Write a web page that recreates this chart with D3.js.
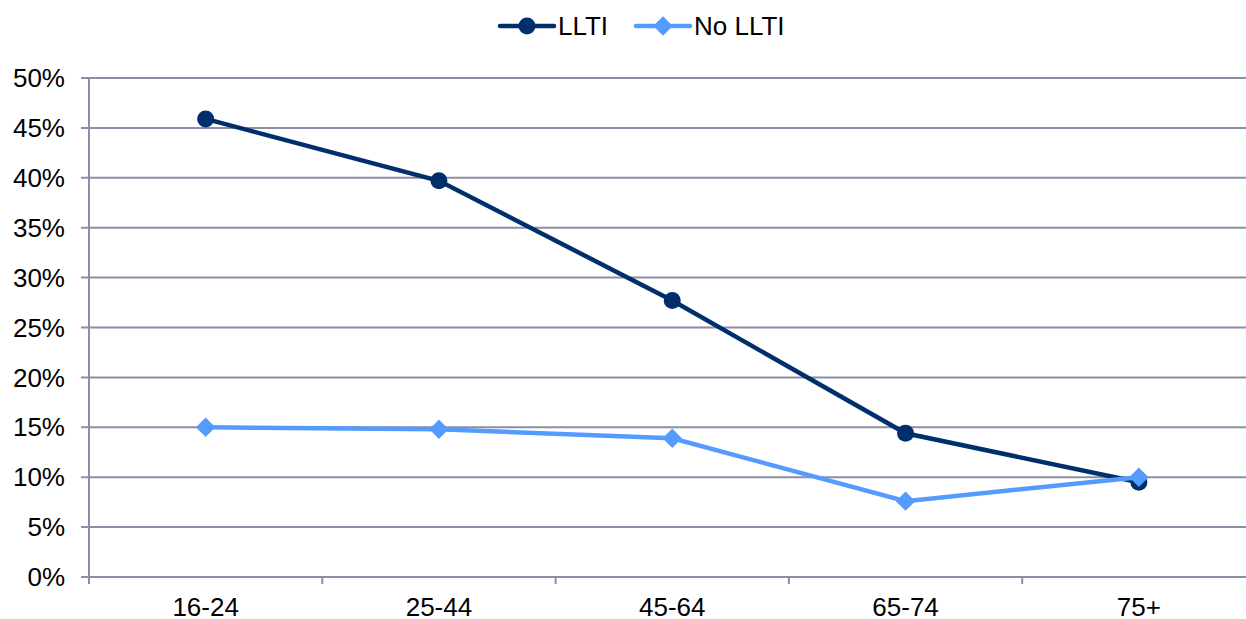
<!DOCTYPE html>
<html><head><meta charset="utf-8">
<script src="https://cdn.jsdelivr.net/npm/d3@7"></script>
<style>body{margin:0;background:#fff}svg{display:block}text{font-family:"Liberation Sans",Arial,sans-serif;fill:#000}</style>
</head><body><svg id="c" width="1246" height="619"></svg>
<script>
const categories = ["16-24","25-44","45-64","65-74","75+"];
const seriesNames = ["LLTI","No LLTI"];
const llti = [45.9, 39.7, 27.7, 14.4, 9.5];
const noLlti = [15.0, 14.8, 13.9, 7.6, 10.0];
const yTicks = [0,5,10,15,20,25,30,35,40,45,50];

const svg = d3.select("#c");
const pLeft = 89, pRight = 1255.5, pTop = 78, pBottom = 577;
const x = d3.scaleBand().domain(categories).range([pLeft, pRight]);
const y = d3.scaleLinear().domain([0,50]).range([pBottom, pTop]);
const grid = "#8c8ea4";
const fs = 26;

// gridlines
svg.append("g").selectAll("line").data(yTicks).join("line")
  .attr("x1", pLeft-8).attr("x2", pRight).attr("y1", d=>y(d)).attr("y2", d=>y(d))
  .attr("stroke", grid).attr("stroke-width", 2);
// y axis line
svg.append("line").attr("x1",pLeft).attr("x2",pLeft).attr("y1",pTop).attr("y2",pBottom+7)
  .attr("stroke",grid).attr("stroke-width",2);
// x ticks
const bounds = categories.map(c=>x(c)).concat([pRight]);
svg.append("g").selectAll("line").data(bounds).join("line")
  .attr("x1",d=>d).attr("x2",d=>d).attr("y1",pBottom).attr("y2",pBottom+7)
  .attr("stroke",grid).attr("stroke-width",2);
// y labels
svg.append("g").selectAll("text").data(yTicks).join("text")
  .attr("x", 65).attr("y", d=>y(d)).attr("dy","0.35em").attr("text-anchor","end")
  .attr("font-size",fs).text(d=>d+"%");
// x labels
svg.append("g").selectAll("text").data(categories).join("text")
  .attr("x", d=>x(d)+x.bandwidth()/2).attr("y", 607).attr("dy","0.35em").attr("text-anchor","middle")
  .attr("font-size",fs).text(d=>d);

const line = d3.line().x((d,i)=>x(categories[i])+x.bandwidth()/2).y(d=>y(d));
const c1 = "#002f6c", c2 = "#559bff";
svg.append("path").datum(llti).attr("d",line).attr("fill","none").attr("stroke",c1).attr("stroke-width",4.5);
svg.append("g").selectAll("circle").data(llti).join("circle")
  .attr("cx",(d,i)=>x(categories[i])+x.bandwidth()/2).attr("cy",d=>y(d)).attr("r",8.5).attr("fill",c1);
svg.append("path").datum(noLlti).attr("d",line).attr("fill","none").attr("stroke",c2).attr("stroke-width",4.5);
const diamond = d3.symbol().type(d3.symbolDiamond2).size(240);
svg.append("g").selectAll("path").data(noLlti).join("path")
  .attr("transform",(d,i)=>`translate(${x(categories[i])+x.bandwidth()/2},${y(d)})`)
  .attr("d",diamond).attr("fill",c2);

// legend
const lg = svg.append("g");
const items = [{name:seriesNames[0],c:c1,x0:500,sym:"circle"},{name:seriesNames[1],c:c2,x0:636,sym:"diamond"}];
items.forEach(it=>{
  lg.append("line").attr("x1",it.x0).attr("x2",it.x0+54).attr("y1",26).attr("y2",26)
    .attr("stroke",it.c).attr("stroke-width",4.5).attr("stroke-linecap","round");
  if(it.sym==="circle") lg.append("circle").attr("cx",it.x0+27).attr("cy",26).attr("r",8.5).attr("fill",it.c);
  else lg.append("path").attr("transform",`translate(${it.x0+27},26)`).attr("d",diamond).attr("fill",it.c);
  lg.append("text").attr("x",it.x0+58).attr("y",26).attr("dy","0.35em").attr("font-size",fs).text(it.name);
});
</script></body></html>
